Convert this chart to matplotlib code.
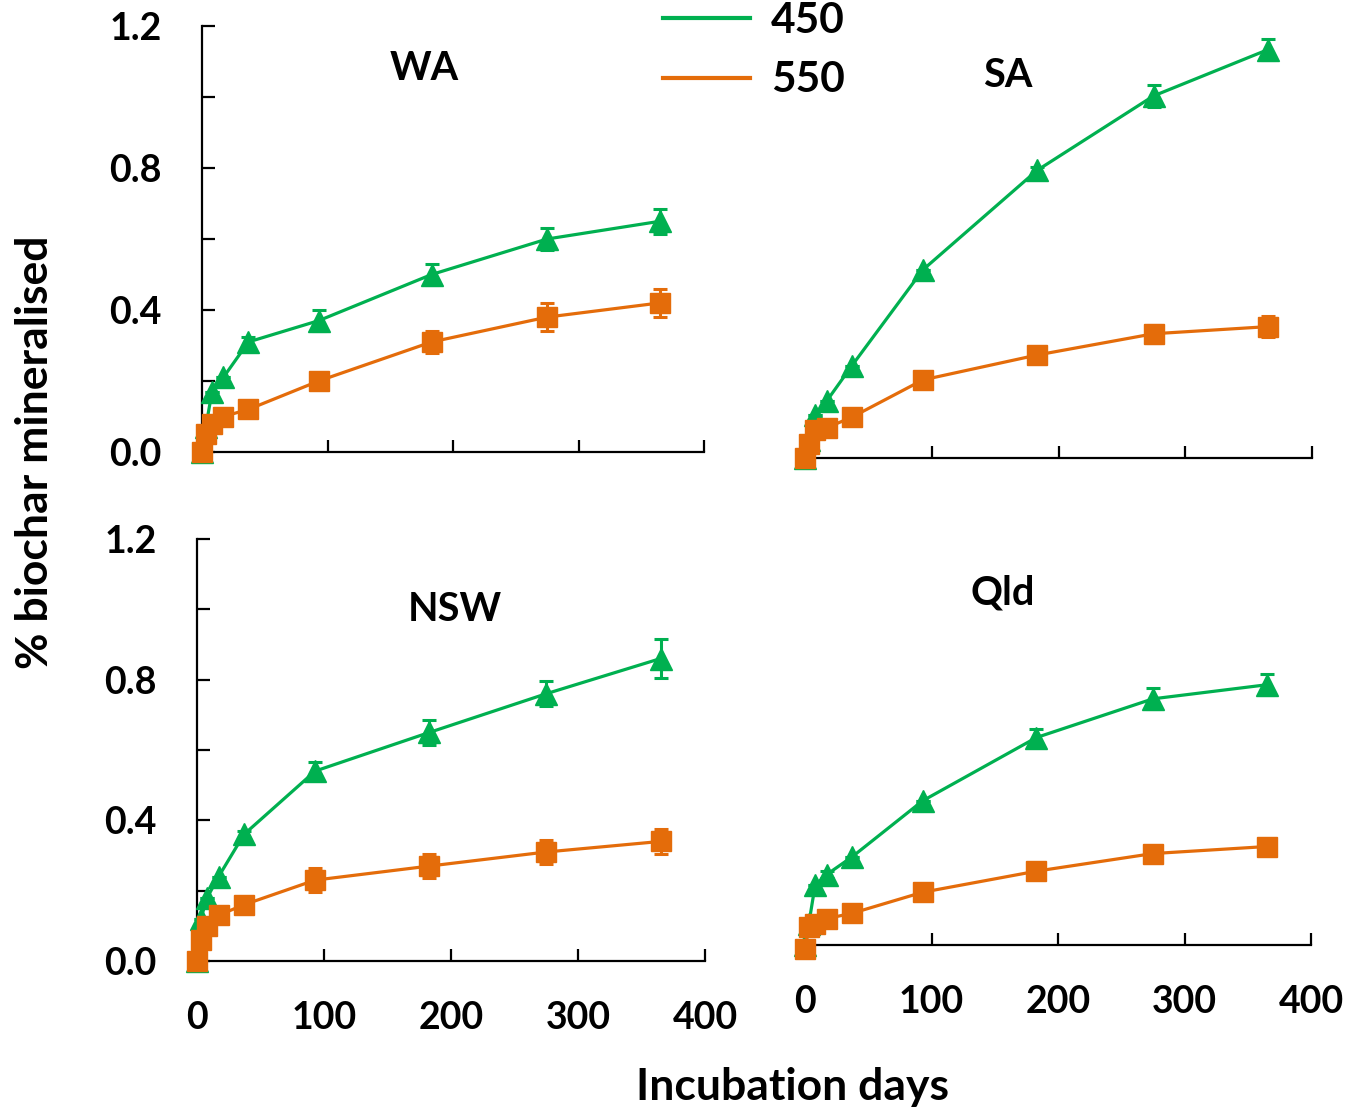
import numpy as np
import matplotlib.pyplot as plt
from matplotlib.lines import Line2D

plt.rcParams['font.family'] = ['Lato', 'DejaVu Sans']
plt.rcParams['font.weight'] = 'bold'

days = [0, 3, 8, 17, 37, 93, 183, 275, 365]

# WA
wa_450 = [0.0, 0.07, 0.17, 0.21, 0.31, 0.37, 0.50, 0.60, 0.65]
wa_450_err = [0, 0, 0, 0, 0.015, 0.03, 0.03, 0.03, 0.035]
wa_550 = [0.0, 0.05, 0.08, 0.10, 0.12, 0.20, 0.31, 0.38, 0.42]
wa_550_err = [0, 0, 0, 0, 0, 0.01, 0.03, 0.04, 0.04]
# SA
sa_450 = [0.0, 0.05, 0.12, 0.16, 0.26, 0.53, 0.81, 1.02, 1.15]
sa_450_err = [0, 0, 0, 0, 0, 0, 0.01, 0.03, 0.03]
sa_550 = [0.0, 0.04, 0.08, 0.085, 0.115, 0.22, 0.29, 0.35, 0.37]
sa_550_err = [0, 0, 0, 0, 0, 0, 0.01, 0.025, 0.03]
# NSW
nsw_450 = [0.0, 0.12, 0.18, 0.24, 0.36, 0.54, 0.65, 0.76, 0.86]
nsw_450_err = [0, 0, 0, 0, 0.01, 0.025, 0.035, 0.035, 0.055]
nsw_550 = [0.0, 0.06, 0.10, 0.13, 0.16, 0.23, 0.27, 0.31, 0.34]
nsw_550_err = [0, 0, 0, 0, 0.01, 0.035, 0.035, 0.035, 0.035]
# Qld
qld_450 = [0.0, 0.06, 0.17, 0.20, 0.25, 0.41, 0.59, 0.70, 0.74]
qld_450_err = [0, 0, 0, 0.01, 0, 0, 0.025, 0.03, 0.03]
qld_550 = [-0.01, 0.05, 0.06, 0.075, 0.09, 0.15, 0.21, 0.26, 0.28]
qld_550_err = [0, 0, 0, 0, 0, 0, 0, 0, 0]

regions = ["WA", "SA", "NSW", "Qld"]
series = [(wa_450, wa_450_err, wa_550, wa_550_err),
          (sa_450, sa_450_err, sa_550, sa_550_err),
          (nsw_450, nsw_450_err, nsw_550, nsw_550_err),
          (qld_450, qld_450_err, qld_550, qld_550_err)]

green = "#00B050"
orange = "#E46C0A"

W, H = 1346, 1110
fig = plt.figure(figsize=(W / 100, H / 100), dpi=100)

# axes boxes in pixels: left, right, top(1.2), bottom(0)
boxes = [(202, 704, 26, 452), (805, 1312, 32, 458),
         (197, 705, 539, 961), (805, 1311, 523, 945)]
title_pos = [(0.442, 0.901), (0.40, 0.897), (0.508, 0.834), (0.391, 0.834)]

for k, (l, r, t, b) in enumerate(boxes):
    ax = fig.add_axes([l / W, 1 - b / H, (r - l) / W, (b - t) / H])
    ax.set_xlim(0, 400)
    ax.set_ylim(0, 1.2)
    y450, e450, y550, e550 = series[k]
    ax.errorbar(days, y450, yerr=e450, color=green, lw=2.3, marker='^', ms=15.5,
                capsize=5, capthick=2.2, elinewidth=2.2, clip_on=False, zorder=3)
    ax.errorbar(days, y550, yerr=e550, color=orange, lw=2.3, marker='s', ms=14.5,
                capsize=5, capthick=2.2, elinewidth=2.2, clip_on=False, zorder=4)
    for s in ['top', 'right']:
        ax.spines[s].set_visible(False)
    ax.spines['bottom'].set_linewidth(1.6)
    ax.spines['left'].set_linewidth(1.6)
    ax.set_xticks([0, 100, 200, 300, 400])
    ax.tick_params(direction='in', length=9, width=1.6, labelsize=27, pad=29)
    if k in (0, 2):
        ax.set_yticks([0, 0.2, 0.4, 0.6, 0.8, 1.0, 1.2])
        ax.set_yticklabels(['0.0', '', '0.4', '', '0.8', '', '1.2'])
    else:
        ax.spines['left'].set_visible(False)
        ax.set_yticks([])
    if k in (0, 1):
        ax.set_xticklabels([])
    ax.text(title_pos[k][0], title_pos[k][1], regions[k], transform=ax.transAxes,
            ha='center', va='center', fontsize=28.5, fontweight='bold')

handles = [Line2D([0], [0], color=green, lw=3), Line2D([0], [0], color=orange, lw=3)]
fig.legend(handles, ["450", "550"], loc='upper left', bbox_to_anchor=(642 / W, 1.017),
           frameon=False, fontsize=30.5, handlelength=2.05, handletextpad=0.5,
           labelspacing=0.5, borderpad=0)

fig.text(35 / W, 1 - 452 / H, "% biochar mineralised", rotation=90, ha='center',
         va='center', fontsize=32, fontweight='bold')
fig.text(793 / W, 1 - 1087 / H, "Incubation days", ha='center', va='center',
         fontsize=32, fontweight='bold')

fig.savefig("out.png", dpi=100)
